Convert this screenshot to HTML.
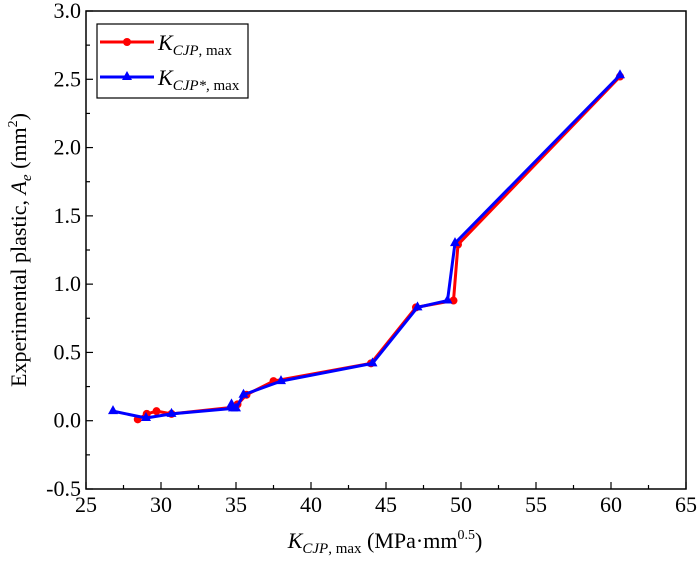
<!DOCTYPE html>
<html><head><meta charset="utf-8"><style>
body{margin:0;background:#fff;}
svg text{font-family:"Liberation Serif",serif;fill:#000;}
</style></head><body>
<svg id="chart" width="700" height="559" viewBox="0 0 700 559" font-family="Liberation Serif, serif">
<g id="axes"></g><g id="series"></g>
<g>
<rect x="97" y="24" width="151" height="74" fill="#fff" stroke="#000" stroke-width="1.2"/>
<g>
<line x1="100" y1="42" x2="154" y2="42" stroke="red" stroke-width="3"/><circle cx="127" cy="42" r="4" fill="red"/>
<text x="158" y="50" font-size="22" font-style="italic">K<tspan font-size="15" dy="5">CJP</tspan><tspan font-size="15" font-style="normal">, max</tspan></text></g>
<g>
<line x1="100" y1="77" x2="154" y2="77" stroke="blue" stroke-width="3"/><polygon points="127,71 132,80 122,80" fill="blue"/>
<text x="158" y="85" font-size="22" font-style="italic">K<tspan font-size="15" dy="5">CJP*</tspan><tspan font-size="15" font-style="normal">, max</tspan></text></g>
</g>
<text x="385" y="548" font-size="22" text-anchor="middle"><tspan font-style="italic">K</tspan><tspan font-size="15" font-style="italic" dy="5">CJP</tspan><tspan font-size="15" dy="0">, max</tspan><tspan dy="-5"> (MPa·mm</tspan><tspan font-size="14" dy="-9">0.5</tspan><tspan dy="9">)</tspan></text>
<text transform="translate(26,250) rotate(-90)" font-size="22" text-anchor="middle">Experimental plastic, <tspan font-style="italic">A</tspan><tspan font-size="15" font-style="italic" dy="5">e</tspan><tspan dy="-5"> (mm</tspan><tspan font-size="14" dy="-9">2</tspan><tspan dy="9">)</tspan></text>
</svg>
<script>
const xTicks=[25,30,35,40,45,50,55,60,65];
const yTicks=[-0.5,0.0,0.5,1.0,1.5,2.0,2.5,3.0];
const redX=[28.45,29.05,29.7,30.7,34.9,35.1,35.7,37.5,44.0,47.0,49.5,49.8,60.6];
const redY=[0.01,0.05,0.07,0.05,0.10,0.12,0.19,0.29,0.42,0.83,0.88,1.29,2.52];
const blueX=[26.8,29.0,30.7,34.8,34.7,35.0,35.5,38.0,44.1,47.1,49.1,49.6,60.6];
const blueY=[0.07,0.02,0.05,0.09,0.12,0.09,0.19,0.29,0.42,0.83,0.88,1.30,2.53];
const L=86,R=686,T=11,B=489;
const sx=v=>L+(v-25)/40*(R-L);
const sy=v=>B-(v+0.5)/3.5*(B-T);
const NS='http://www.w3.org/2000/svg';
function mk(tag,attrs,parent){const e=document.createElementNS(NS,tag);for(const k in attrs)e.setAttribute(k,attrs[k]);parent.appendChild(e);return e;}
const ax=document.getElementById('axes');
const frame=mk('rect',{x:L,y:T,width:R-L,height:B-T,fill:'none',stroke:'#000','stroke-width':1.5},ax);


xTicks.forEach((t,i)=>{
  const x=sx(t);
  mk('line',{x1:x,y1:B,x2:x,y2:B-7,stroke:'#000','stroke-width':1.2},ax);
  if(i<xTicks.length-1){const xm=sx(t+2.5);mk('line',{x1:xm,y1:B,x2:xm,y2:B-4,stroke:'#000','stroke-width':1.2},ax);}
  const tx=mk('text',{x:x,y:B+23,'font-size':22,'text-anchor':'middle','font-family':'Liberation Serif, serif'},ax);tx.textContent=t;
  
  
});
yTicks.forEach((t,i)=>{
  const y=sy(t);
  mk('line',{x1:L,y1:y,x2:L+7,y2:y,stroke:'#000','stroke-width':1.2},ax);
  if(i<yTicks.length-1){const ym=sy(t+0.25);mk('line',{x1:L,y1:ym,x2:L+4,y2:ym,stroke:'#000','stroke-width':1.2},ax);}
  const tx=mk('text',{x:L-5,y:y+7,'font-size':22,'text-anchor':'end','font-family':'Liberation Serif, serif'},ax);tx.textContent=t.toFixed(1);
  
  
});
const sg=document.getElementById('series');
function series(xs,ys,col,name,marker){
  const g=mk('g',{},sg);
  
  
  mk('polyline',{points:xs.map((x,i)=>sx(x)+','+sy(ys[i])).join(' '),fill:'none',stroke:col,'stroke-width':3,'stroke-linejoin':'round'},g);
  xs.forEach((x,i)=>{
    const cx=sx(x),cy=sy(ys[i]);let m;
    if(marker==='c')m=mk('circle',{cx:cx,cy:cy,r:4,fill:col},g);
    else m=mk('polygon',{points:`${cx},${cy-6} ${cx+5},${cy+3} ${cx-5},${cy+3}`,fill:col},g);
    
    
  });
}
series(redX,redY,'red','series-kcjp','c');
series(blueX,blueY,'blue','series-kcjpstar','t');
</script>
</body></html>
